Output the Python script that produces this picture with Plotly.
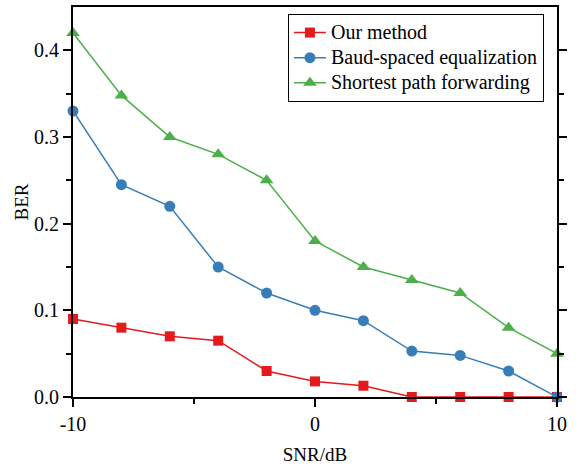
import plotly.graph_objects as go

snr = [-10, -8, -6, -4, -2, 0, 2, 4, 6, 8, 10]
our_method = [0.09, 0.08, 0.07, 0.065, 0.03, 0.018, 0.013, 0.0, 0.0, 0.0, 0.0]
baud_spaced = [0.33, 0.245, 0.22, 0.15, 0.12, 0.10, 0.088, 0.053, 0.048, 0.03, 0.0]
shortest_path = [0.42, 0.348, 0.30, 0.28, 0.25, 0.18, 0.15, 0.135, 0.12, 0.08, 0.05]

names = ["Our method", "Baud-spaced equalization", "Shortest path forwarding"]
colors = ["#e41a1c", "#377eb8", "#4daf4a"]
symbols = ["square", "circle", "triangle-up"]
sizes = [10, 11, 12]

fig = go.Figure()
for ys, n, c, s, sz in zip([our_method, baud_spaced, shortest_path], names, colors, symbols, sizes):
    fig.add_trace(go.Scatter(x=snr, y=ys, name="<span style='font-size:20px'>" + n + "</span>",
                             mode="lines+markers",
                             line=dict(color=c, width=1.5),
                             marker=dict(symbol=s, size=sz, color=c),
                             cliponaxis=False))

fam = "Liberation Serif, Times New Roman, serif"
font = dict(family=fam, size=19, color="black")
fig.update_layout(
    width=577, height=465,
    margin=dict(l=73, r=20, t=7, b=68),
    plot_bgcolor="white", paper_bgcolor="white",
    font=font,
    showlegend=True,
    legend=dict(x=0.973, y=0.982, xanchor="right", yanchor="top",
                bordercolor="black", borderwidth=1, bgcolor="white",
                font=dict(family=fam, size=17, color="black"), tracegroupgap=0, itemwidth=32),
    xaxis=dict(range=[-10, 10], tickvals=[-10, 0, 10], ticktext=["-10", "0", "10"],
               ticks="outside", ticklen=8, tickwidth=2, tickcolor="black",
               showline=True, linecolor="black", linewidth=2, mirror=True,
               showgrid=False, zeroline=False, automargin=False,
               tickfont=dict(family=fam, size=20, color="black"),
               minor=dict(tickvals=[-5, 5], ticks="outside", ticklen=5, tickwidth=2, tickcolor="black"),
               title=dict(text="SNR/dB", standoff=14, font=dict(family=fam, size=19, color="black"))),
    yaxis=dict(range=[0, 0.45], tickvals=[0, 0.1, 0.2, 0.3, 0.4], ticktext=["0.0", "0.1", "0.2", "0.3", "0.4"],
               ticks="outside", ticklen=8, tickwidth=2, tickcolor="black",
               showline=True, linecolor="black", linewidth=2, mirror="ticks",
               showgrid=False, zeroline=False, automargin=False,
               tickfont=dict(family=fam, size=20, color="black"),
               minor=dict(tickvals=[0.05, 0.15, 0.25, 0.35], ticks="outside", ticklen=5, tickwidth=2, tickcolor="black"),
               title=dict(text="BER", standoff=0, font=dict(family=fam, size=19, color="black"))),
)
fig.write_html("out.html")
